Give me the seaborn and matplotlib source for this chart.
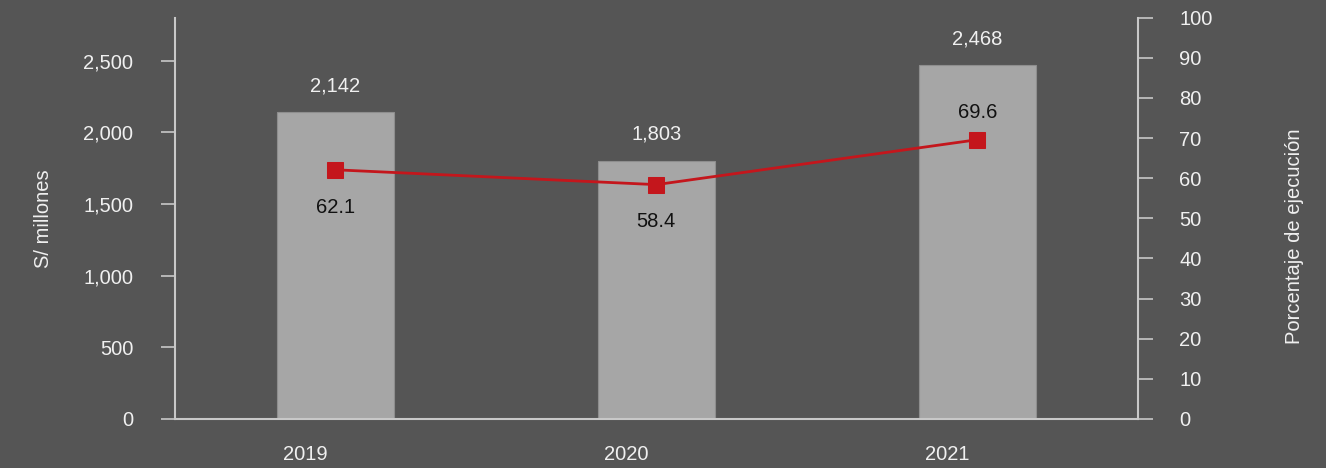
import numpy as np
import pandas as pd
import matplotlib
matplotlib.use("Agg")
import matplotlib.pyplot as plt
import matplotlib.transforms as mtransforms
import seaborn as sns

# ---- data ----
years = ["2019", "2020", "2021"]
monto = [2142, 1803, 2468]          # S/ millones (bars)
ejecucion = [62.1, 58.4, 69.6]      # Porcentaje de ejecución (line)
line_label_pos = ["below", "below", "above"]

BG = "#555555"
BAR = "#a6a6a6"
RED = "#c4161c"
AX = "#c8c8c8"
TXT = "#f0f0f0"
FS = 14.5

sns.set_theme(style="white")
plt.rcParams["font.family"] = ["Liberation Sans", "DejaVu Sans"]

fig = plt.figure(figsize=(13.26, 4.68), dpi=100, facecolor=BG)
ax = fig.add_axes([0.132, 0.105, 0.726, 0.857])
ax.set_facecolor(BG)

df = pd.DataFrame({"year": years, "monto": monto, "ejec": ejecucion})
sns.barplot(data=df, x="year", y="monto", color=BAR, width=0.365,
            edgecolor="#8e8e8e", linewidth=0.8, saturation=1, ax=ax)

ax.set_xlim(-0.5, 2.5)
ax.set_ylim(0, 2800)
ax.set_yticks([0, 500, 1000, 1500, 2000, 2500])
ax.set_yticklabels([f"{v:,}" for v in [0, 500, 1000, 1500, 2000, 2500]])

for i, v in enumerate(monto):
    ax.annotate(f"{v:,}", (i, v), xytext=(0, 12), textcoords="offset points",
                ha="center", va="bottom", color=TXT, fontsize=FS)

# x axis: labels at centers (shifted), ticks at boundaries
ax.set_xticks(range(len(years)))
ax.set_xticklabels(years)
ax.tick_params(axis="x", which="major", length=0, pad=19, labelsize=FS, labelcolor=TXT)
ax.set_xticks([-0.5, 0.5, 1.5, 2.5], minor=True)
ax.tick_params(axis="x", which="minor", length=7, width=1.2, color=AX, direction="out")
off = mtransforms.ScaledTranslation(-30 / 100, 0, fig.dpi_scale_trans)
for lab in ax.get_xticklabels():
    lab.set_transform(lab.get_transform() + off)
ax.set_xlabel("")

ax.tick_params(axis="y", length=10, width=1.2, color=AX, pad=20, labelsize=FS, labelcolor=TXT)
ax.set_ylabel("S/ millones", fontsize=FS, color=TXT, labelpad=22)

for s in ["top", "right"]:
    ax.spines[s].set_visible(False)
for s in ["left", "bottom"]:
    ax.spines[s].set_color(AX)
    ax.spines[s].set_linewidth(1.5)

ax2 = ax.twinx()
ldf = pd.DataFrame({"x": np.arange(len(years)), "ejec": ejecucion})
sns.lineplot(data=ldf, x="x", y="ejec", color=RED, linewidth=2, marker="s",
             markersize=11, markeredgecolor=RED, ax=ax2)
ax2.set_xlim(-0.5, 2.5)
ax2.set_ylim(0, 100)
ax2.set_yticks(range(0, 101, 10))
ax2.tick_params(axis="y", length=11, width=1.2, color=AX, pad=19, labelsize=FS, labelcolor=TXT)
ax2.set_ylabel("Porcentaje de ejecución", fontsize=FS, color=TXT, labelpad=52)
ax2.yaxis.label.set_y(0.456)
for s in ["top", "left", "bottom"]:
    ax2.spines[s].set_visible(False)
ax2.spines["right"].set_color(AX)
ax2.spines["right"].set_linewidth(1.5)

for i, (v, pos) in enumerate(zip(ejecucion, line_label_pos)):
    if pos == "below":
        ax2.annotate(f"{v:.1f}", (i, v), xytext=(0, -20), textcoords="offset points",
                     ha="center", va="top", color="#111111", fontsize=FS)
    else:
        ax2.annotate(f"{v:.1f}", (i, v), xytext=(0, 13), textcoords="offset points",
                     ha="center", va="bottom", color="#111111", fontsize=FS)

fig.savefig("out.png", dpi=100, facecolor=BG)
